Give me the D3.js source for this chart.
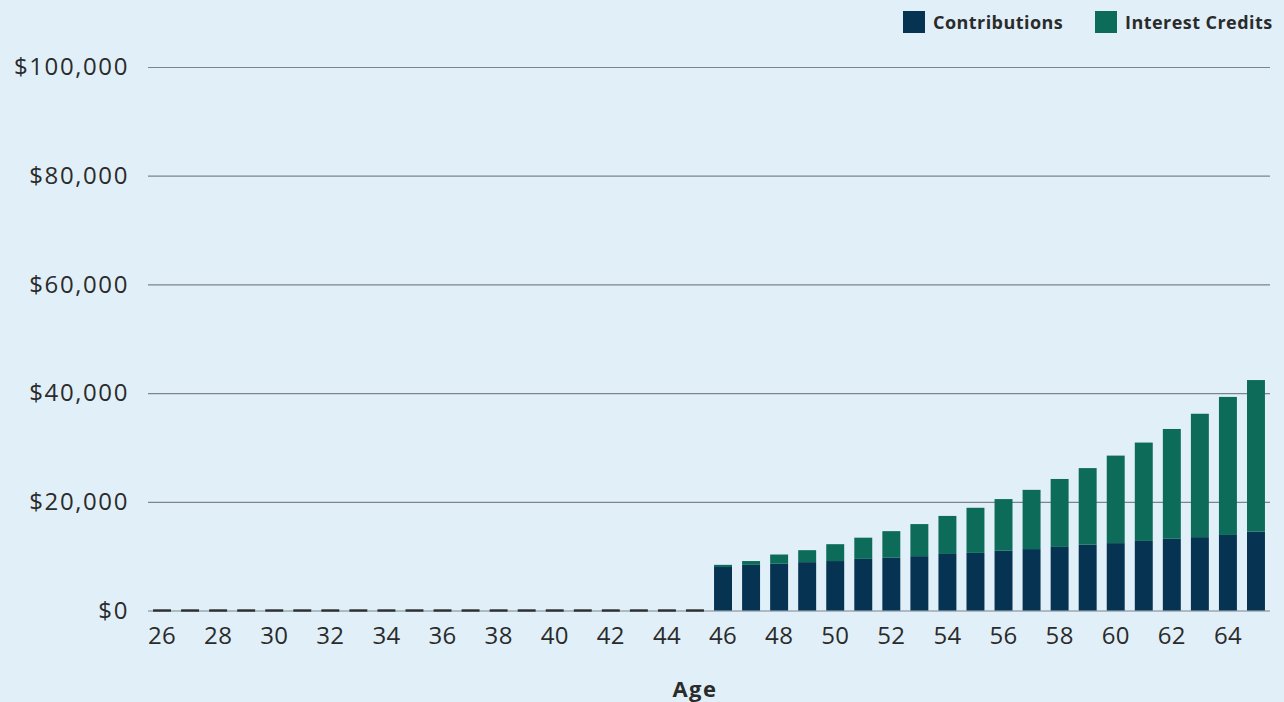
<!DOCTYPE html>
<html>
<head>
<meta charset="utf-8">
<script src="https://cdn.jsdelivr.net/npm/d3@7"></script>
<style>
  html, body { margin: 0; padding: 0; background: #e1f0f8; }
  svg { display: block; }
  text { font-family: "Open Sans", "DejaVu Sans", sans-serif; fill: #2b2b2b; }
</style>
</head>
<body>
<svg id="chart" width="1284" height="702"></svg>
<script>
// Account balance by age, split into contributions and interest credits
const ages = d3.range(26, 66);
const contributions = [
  0, 0, 0, 0, 0, 0, 0, 0, 0, 0,
  0, 0, 0, 0, 0, 0, 0, 0, 0, 0,
  8000, 8400, 8600, 8900, 9100, 9500, 9700, 10000, 10400, 10600,
  11000, 11300, 11700, 12100, 12400, 12800, 13200, 13500, 13900, 14500
];
const interestCredits = [
  0, 0, 0, 0, 0, 0, 0, 0, 0, 0,
  0, 0, 0, 0, 0, 0, 0, 0, 0, 0,
  400, 700, 1700, 2200, 3100, 3900, 4900, 5900, 7000, 8300,
  9500, 10900, 12500, 14100, 16100, 18100, 20200, 22700, 25400, 27900
];
const seriesNames = ["Contributions", "Interest Credits"];
const seriesColors = ["#063352", "#0d6b5a"];
const yTicks = [0, 20000, 40000, 60000, 80000, 100000];
const xTickAges = d3.range(26, 66, 2);

const svg = d3.select("#chart");
const plotLeft = 148, plotRight = 1270, plotTop = 67, plotBottom = 610.5;

const x = d3.scaleBand()
  .domain(ages)
  .range([plotLeft, plotRight])
  .paddingInner(0.36)
  .paddingOuter(0.18);

const y = d3.scaleLinear()
  .domain([0, 100000])
  .range([plotBottom, plotTop]);

// Horizontal gridlines and dollar labels
const yAxis = d3.axisLeft(y)
  .tickValues(yTicks)
  .tickSize(-(plotRight - plotLeft))
  .tickPadding(19)
  .tickFormat(d => "$" + d3.format(",")(d));

const gy = svg.append("g")
  .attr("transform", `translate(${plotLeft},0)`)
  .call(yAxis);
gy.select(".domain").remove();
gy.selectAll(".tick line").attr("stroke", "#7d848c").attr("stroke-width", 1.2);
gy.selectAll(".tick text")
  .attr("font-size", 24)
  .attr("font-weight", 400)
  .attr("fill", "#2b2b2b")
  .style("font-family", "'Open Sans', sans-serif")
  .attr("letter-spacing", 1.6);

// Stacked bars
const rows = ages.map((a, i) => ({ age: a, Contributions: contributions[i], "Interest Credits": interestCredits[i] }));
const stacked = d3.stack().keys(seriesNames)(rows);

const barsG = svg.append("g");
stacked.forEach((layer, li) => {
  barsG.selectAll(null)
    .data(layer.filter(d => d[1] > d[0]))
    .join("rect")
    .attr("x", d => x(d.data.age))
    .attr("width", x.bandwidth())
    .attr("y", d => y(d[1]))
    .attr("height", d => y(d[0]) - y(d[1]))
    .attr("fill", seriesColors[li]);
});

// Zero-balance years show as a thin mark on the baseline
barsG.selectAll(null)
  .data(rows.filter(d => d.Contributions + d["Interest Credits"] === 0))
  .join("rect")
  .attr("x", d => x(d.age))
  .attr("width", x.bandwidth())
  .attr("y", y(0) - 1.2)
  .attr("height", 2.4)
  .attr("fill", "#2d2f33");

// Age axis
const xAxis = d3.axisBottom(x)
  .tickValues(xTickAges)
  .tickSize(0)
  .tickPadding(16);
const gx = svg.append("g")
  .attr("transform", `translate(0,${plotBottom})`)
  .call(xAxis);
gx.select(".domain").remove();
gx.selectAll(".tick text")
  .attr("font-size", 24)
  .attr("font-weight", 400)
  .attr("fill", "#2b2b2b")
  .style("font-family", "'Open Sans', sans-serif")
  .attr("letter-spacing", 0.3);

svg.append("text")
  .attr("x", 695)
  .attr("y", 697)
  .attr("text-anchor", "middle")
  .attr("font-size", 22)
  .attr("font-weight", 700)
  .attr("letter-spacing", 1.5)
  .text("Age");

// Legend
const legendItems = [
  { name: seriesNames[0], color: seriesColors[0], x: 903 },
  { name: seriesNames[1], color: seriesColors[1], x: 1095 }
];
const lg = svg.append("g");
legendItems.forEach(it => {
  lg.append("rect")
    .attr("x", it.x).attr("y", 11)
    .attr("width", 22).attr("height", 22)
    .attr("fill", it.color);
  lg.append("text")
    .attr("x", it.x + 30).attr("y", 29)
    .attr("font-size", 18)
    .attr("font-weight", 700)
    .attr("letter-spacing", 0.45)
    .attr("fill", "#222")
    .text(it.name);
});
</script>
</body>
</html>
